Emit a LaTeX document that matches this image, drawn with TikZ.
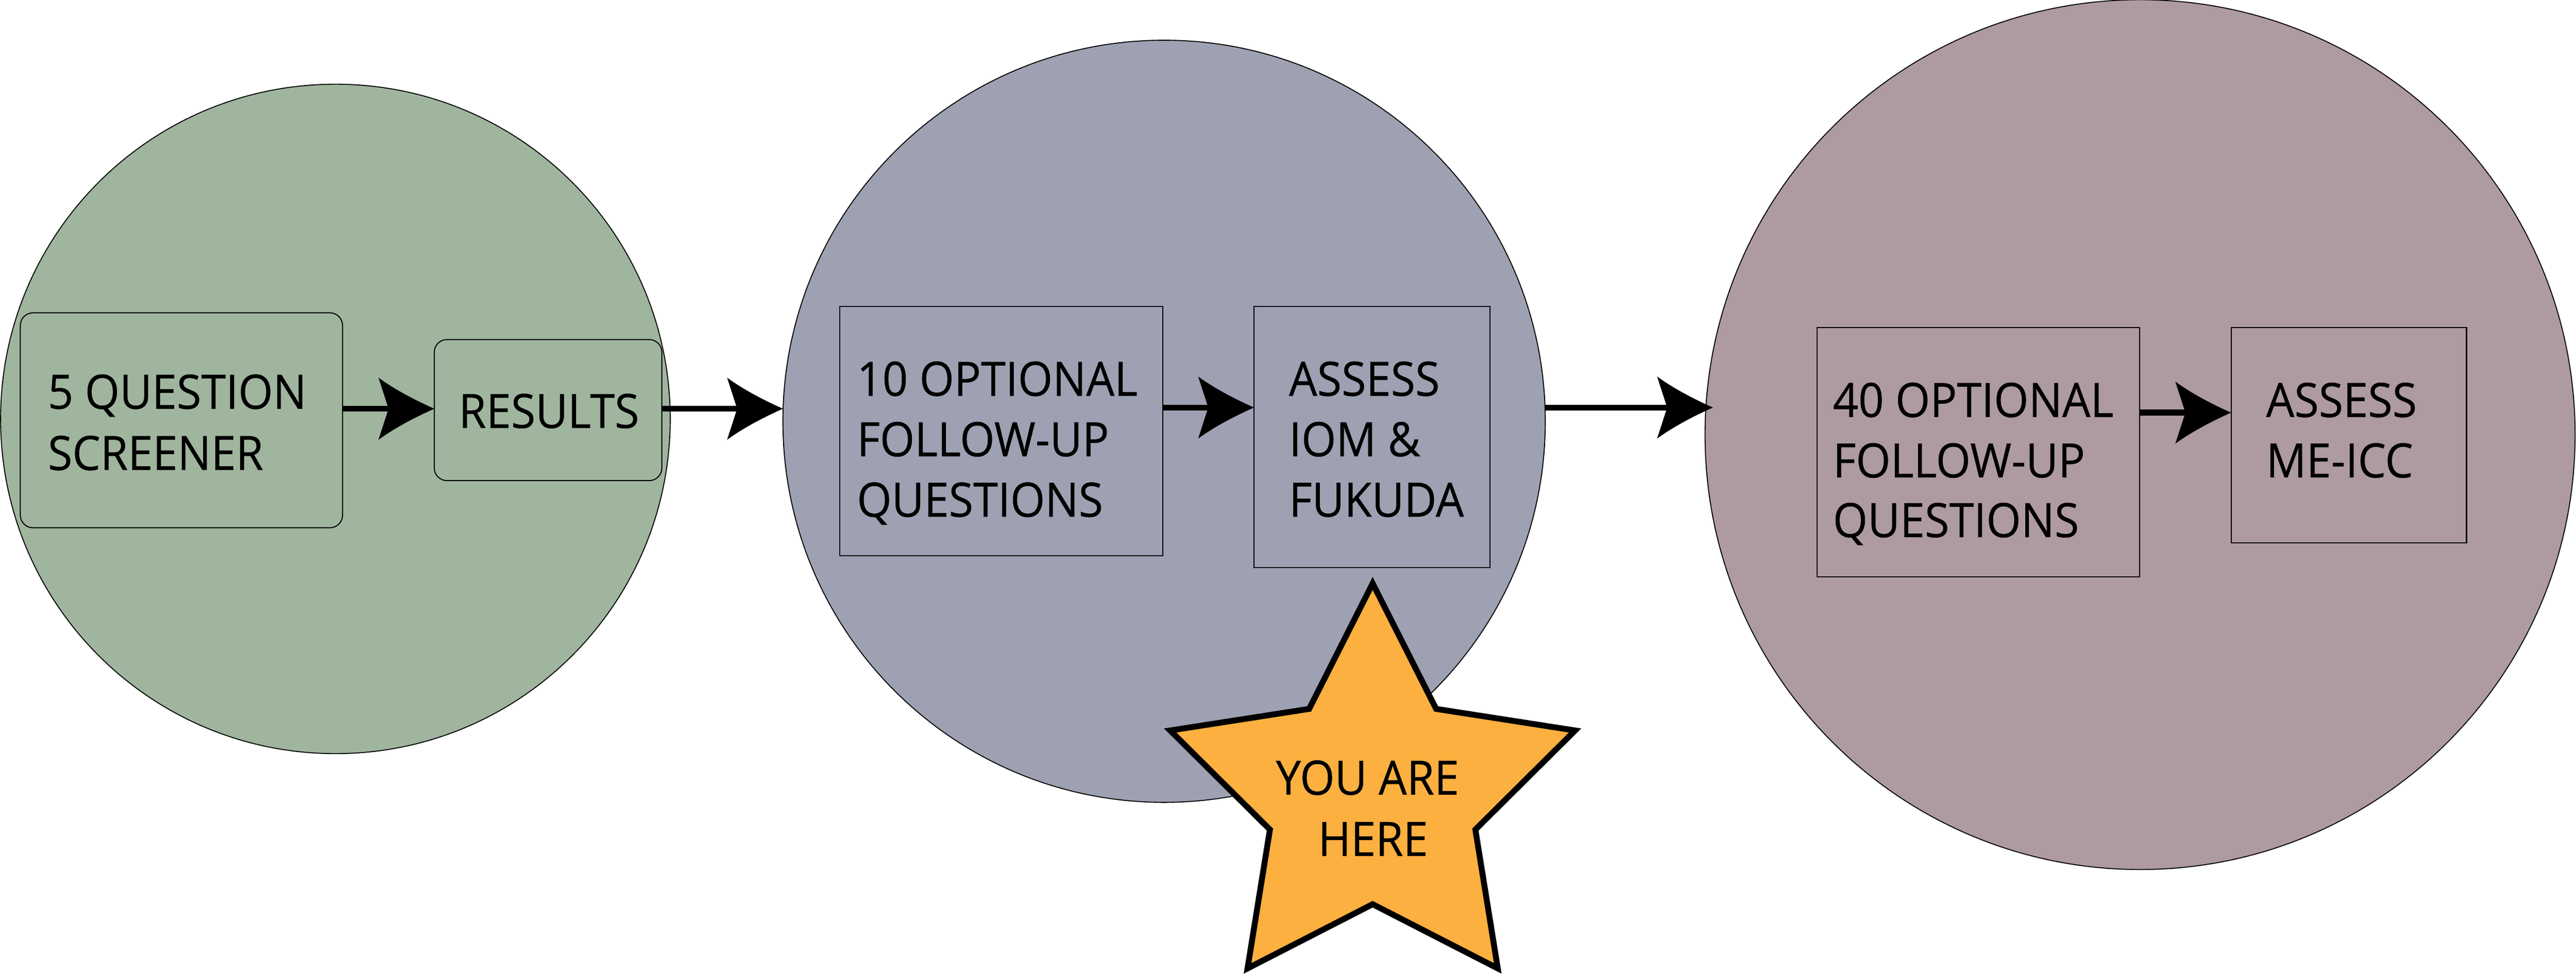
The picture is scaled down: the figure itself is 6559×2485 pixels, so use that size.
\documentclass[tikz,border=0pt]{standalone}
\usepackage{fontspec}
\setmainfont{Open Sans}[FakeStretch=0.94,FakeBold=0.5]
\usetikzlibrary{arrows.meta,calc}
\definecolor{cgreen}{HTML}{A0B59E}
\definecolor{cblue}{HTML}{9EA1B2}
\definecolor{cmauve}{HTML}{AE9B9F}
\definecolor{corange}{HTML}{FBB040}
\pgfdeclarearrow{
  name = Swept,
  parameters = {\the\pgfarrowlength,\the\pgfarrowwidth},
  setup code = {
    \pgfarrowssettipend{0pt}
    \pgfarrowssetlineend{-0.7\pgfarrowlength}
    \pgfarrowssetbackend{-\pgfarrowlength}
    \pgfarrowssavethe\pgfarrowlength
    \pgfarrowssavethe\pgfarrowwidth
  },
  drawing code = {
    \pgfpathmoveto{\pgfqpoint{0pt}{0pt}}
    \pgfpathcurveto{\pgfpoint{-0.411\pgfarrowlength}{0.165\pgfarrowwidth}}{\pgfpoint{-0.744\pgfarrowlength}{0.332\pgfarrowwidth}}{\pgfpoint{-\pgfarrowlength}{0.5\pgfarrowwidth}}
    \pgfpathlineto{\pgfpoint{-0.82\pgfarrowlength}{0pt}}
    \pgfpathlineto{\pgfpoint{-\pgfarrowlength}{-0.5\pgfarrowwidth}}
    \pgfpathcurveto{\pgfpoint{-0.744\pgfarrowlength}{-0.332\pgfarrowwidth}}{\pgfpoint{-0.411\pgfarrowlength}{-0.165\pgfarrowwidth}}{\pgfqpoint{0pt}{0pt}}
    \pgfpathclose
    \pgfusepathqfill
  },
  defaults = {length = 1.42cm, width = 1.58cm}
}
\begin{document}
\begin{tikzpicture}[x=0.01cm,y=-0.01cm,
  circ/.style={circle,draw=black,line width=0.7pt,inner sep=0pt,outer sep=0pt},
  rbox/.style={rectangle,draw=black,line width=0.75pt,rounded corners=0.32cm,inner sep=0pt,outer sep=0pt},
  sbox/.style={rectangle,draw=black,line width=0.75pt,inner sep=0pt,outer sep=0pt},
  lbl/.style={inner sep=0pt,outer sep=0pt,anchor=base west,font=\fontsize{34.3pt}{42pt}\selectfont},
  lblc/.style={lbl,anchor=base},
  flow/.style={line width=4.27pt,-{Swept[length=1.42cm,width=1.58cm]}},
  starsty/.style={fill=corange,draw=black,line width=4.27pt,line join=miter}
]
\useasboundingbox (0,0) rectangle (6559,2485);
% stage circles
\node[circ,fill=cgreen,minimum size=17.04cm] (c1) at (854,1067) {};
\node[circ,fill=cblue,minimum size=19.40cm] (c2) at (2964,1073) {};
\node[circ,fill=cmauve,minimum size=22.14cm] (c3) at (5449,1107) {};
% boxes
\node[rbox,minimum width=8.20cm,minimum height=5.47cm] (b1) at (462,1070.5) {};
\node[rbox,minimum width=5.79cm,minimum height=3.59cm] (b2) at (1395.5,1044.5) {};
\node[sbox,minimum width=8.21cm,minimum height=6.34cm] (b3) at (2549.5,1098) {};
\node[sbox,minimum width=6.01cm,minimum height=6.64cm] (b4) at (3493.5,1113) {};
\node[sbox,minimum width=8.20cm,minimum height=6.34cm] (b5) at (5037,1152) {};
\node[sbox,minimum width=5.99cm,minimum height=5.47cm] (b6) at (5980.5,1108.5) {};
% texts
\node[lbl] (t1a) at (122,1041) {5 QUESTION};
\node[lbl] (t1b) at (122,1197) {SCREENER};
\node[lbl] (t2a) at (1168,1090) {RESULTS};
\node[lbl] (t3a) at (2182,1008) {10 OPTIONAL};
\node[lbl] (t3b) at (2182,1162) {FOLLOW-UP};
\node[lbl] (t3c) at (2182,1316) {QUESTIONS};
\node[lbl] (t4a) at (3282,1008) {ASSESS};
\node[lbl] (t4b) at (3282,1162) {IOM \&};
\node[lbl] (t4c) at (3282,1316) {FUKUDA};
\node[lbl] (t5a) at (4667,1062) {40 OPTIONAL};
\node[lbl] (t5b) at (4667,1216) {FOLLOW-UP};
\node[lbl] (t5c) at (4667,1368) {QUESTIONS};
\node[lbl] (t6a) at (5770,1062) {ASSESS};
\node[lbl] (t6b) at (5770,1216) {ME-ICC};
% arrows
\draw[flow] (b1.east |- 0,1041) -- (b2.west |- 0,1041);
\draw[flow] (b2.east |- 0,1041) -- (c2.west |- 0,1041);
\draw[flow] (b3.east |- 0,1038) -- (b4.west |- 0,1038);
\draw[flow] (c2.east |- 0,1038) -- ($(c3.west |- 0,1038)+(20,0)$);
\draw[flow] (b5.east |- 0,1051) -- (b6.west |- 0,1051);
% star
\coordinate (sc) at (3495,2028);
\draw[starsty] ($(sc)+(-90:542)$) -- ($(sc)+(-54:275)$) -- ($(sc)+(-18:542)$) -- ($(sc)+(18:275)$)
  -- ($(sc)+(54:542)$) -- ($(sc)+(90:275)$) -- ($(sc)+(126:542)$) -- ($(sc)+(162:275)$)
  -- ($(sc)+(198:542)$) -- ($(sc)+(234:275)$) -- cycle;
\node[lblc] (s1) at (3482,2024) {YOU ARE};
\node[lblc] (s2) at (3496,2180) {HERE};
\end{tikzpicture}
\end{document}
